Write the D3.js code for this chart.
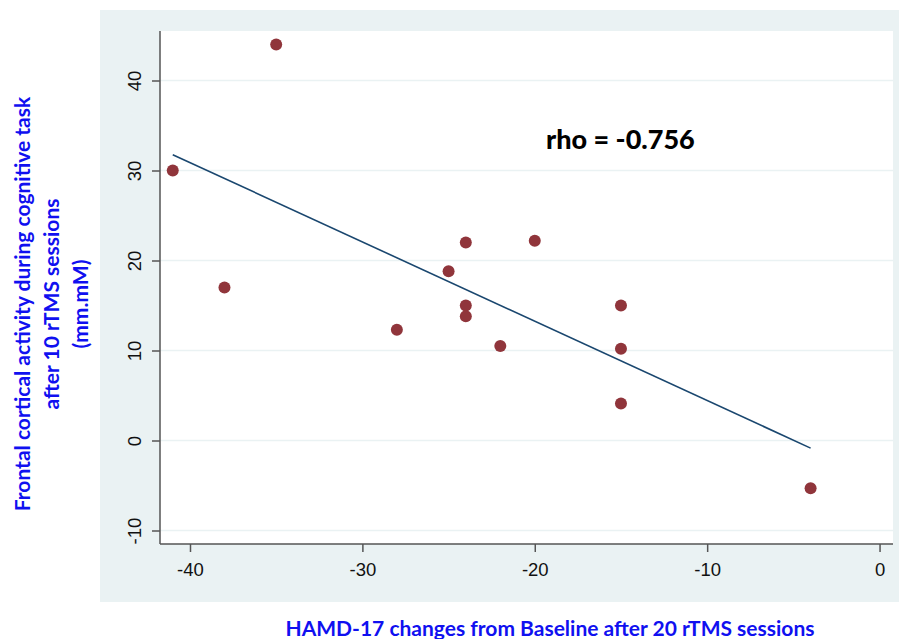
<!DOCTYPE html>
<html>
<head>
<meta charset="utf-8">
<script src="https://cdn.jsdelivr.net/npm/d3@7"></script>
<style>
  body { margin: 0; background: #ffffff; }
  .tick text { font-family: "Liberation Sans", Arial, sans-serif; font-size: 18.5px; fill: #111; }
  .axis-label { font-family: Lato, "Open Sans", sans-serif; font-weight: bold; font-size: 21px; fill: #1010f0; }
  .rho { font-family: Lato, "Open Sans", sans-serif; font-weight: 900; font-size: 27px; fill: #000; }
</style>
</head>
<body>
<script>
// HAMD-17 change (x) vs frontal cortical activity (y)
const hamdChange = [-35, -41, -38, -28, -25, -24, -24, -24, -22, -20, -15, -15, -15, -4];
const frontalActivity = [44, 30, 17, 12.3, 18.8, 22, 15, 13.8, 10.5, 22.2, 15, 10.2, 4.1, -5.3];
const xTicks = [-40, -30, -20, -10, 0];
const yTicks = [-10, 0, 10, 20, 30, 40];
const rhoText = 'rho = -0.756';

const W = 899, H = 639;
const bg = { x: 100, y: 10, right: 899, bottom: 602 };
const plot = { left: 160, top: 31, right: 893, bottom: 544 };

const svg = d3.select('body').append('svg')
    .attr('width', W)
    .attr('height', H);

// stata-ish background and plot region
svg.append('rect')
    .attr('x', bg.x).attr('y', bg.y)
    .attr('width', bg.right - bg.x).attr('height', bg.bottom - bg.y)
    .attr('fill', '#eaf2f3');
svg.append('rect')
    .attr('x', plot.left).attr('y', plot.top)
    .attr('width', plot.right - plot.left).attr('height', plot.bottom - plot.top)
    .attr('fill', '#ffffff');

const x = d3.scaleLinear()
    .domain([-41.74, 0.78])
    .range([plot.left, plot.right]);
const y = d3.scaleLinear()
    .domain([-11.5, 45.5])
    .range([plot.bottom, plot.top]);

// gridlines
svg.append('g')
    .selectAll('line')
    .data(yTicks)
    .join('line')
    .attr('x1', plot.left).attr('x2', plot.right)
    .attr('y1', d => y(d)).attr('y2', d => y(d))
    .attr('stroke', '#eaf2f3')
    .attr('stroke-width', 1.5);

// axes (plain hyphen minus like the original)
const fmt = d => String(d);
const xAxis = d3.axisBottom(x).tickValues(xTicks).tickFormat(fmt).tickSize(8).tickPadding(6).tickSizeOuter(0);
const yAxis = d3.axisLeft(y).tickValues(yTicks).tickFormat(fmt).tickSize(8).tickPadding(6).tickSizeOuter(0);

const xg = svg.append('g')
    .attr('transform', `translate(0,${plot.bottom})`)
    .call(xAxis);
const yg = svg.append('g')
    .attr('transform', `translate(${plot.left},0)`)
    .call(yAxis);

[xg, yg].forEach(g => {
    g.select('.domain').attr('stroke', '#555').attr('stroke-width', 1.5);
    g.selectAll('.tick line').attr('stroke', '#555').attr('stroke-width', 1.5);
});
// stretch domain lines over the whole plot region
xg.select('.domain').attr('d', `M${plot.left},0H${plot.right}`);
yg.select('.domain').attr('d', `M0,${plot.top}V${plot.bottom}`);

yg.selectAll('.tick text')
    .attr('text-anchor', 'middle')
    .attr('transform', 'rotate(-90)')
    .attr('x', 0)
    .attr('y', -25)
    .attr('dy', '0.35em');
xg.selectAll('.tick text').attr('dy', '0.95em');

// fitted line (least squares)
const mx = d3.mean(hamdChange), my = d3.mean(frontalActivity);
let sxy = 0, sxx = 0;
hamdChange.forEach((v, i) => {
    sxy += (v - mx) * (frontalActivity[i] - my);
    sxx += (v - mx) * (v - mx);
});
const slope = sxy / sxx;
const intercept = my - slope * mx;
const [xMin, xMax] = d3.extent(hamdChange);

svg.append('line')
    .attr('x1', x(xMin)).attr('y1', y(intercept + slope * xMin))
    .attr('x2', x(xMax)).attr('y2', y(intercept + slope * xMax))
    .attr('stroke', '#1a476f')
    .attr('stroke-width', 1.6);

// points
svg.append('g')
    .selectAll('circle')
    .data(hamdChange.map((v, i) => [v, frontalActivity[i]]))
    .join('circle')
    .attr('cx', d => x(d[0]))
    .attr('cy', d => y(d[1]))
    .attr('r', 6)
    .attr('fill', '#90353b');

// annotation
svg.append('text')
    .attr('class', 'rho')
    .attr('x', 546)
    .attr('y', 149)
    .text(rhoText);

// axis titles
svg.append('text')
    .attr('class', 'axis-label')
    .attr('x', 550)
    .attr('y', 636)
    .attr('text-anchor', 'middle')
    .text('HAMD-17 changes from Baseline after 20 rTMS sessions');

const yLabelLines = ['Frontal cortical activity during cognitive task', 'after 10 rTMS sessions', '(mm.mM)'];
svg.append('g')
    .selectAll('text')
    .data(yLabelLines)
    .join('text')
    .attr('class', 'axis-label')
    .attr('text-anchor', 'middle')
    .attr('transform', (d, i) => `translate(${30 + i * 29},304) rotate(-90)`)
    .text(d => d);
</script>
</body>
</html>
